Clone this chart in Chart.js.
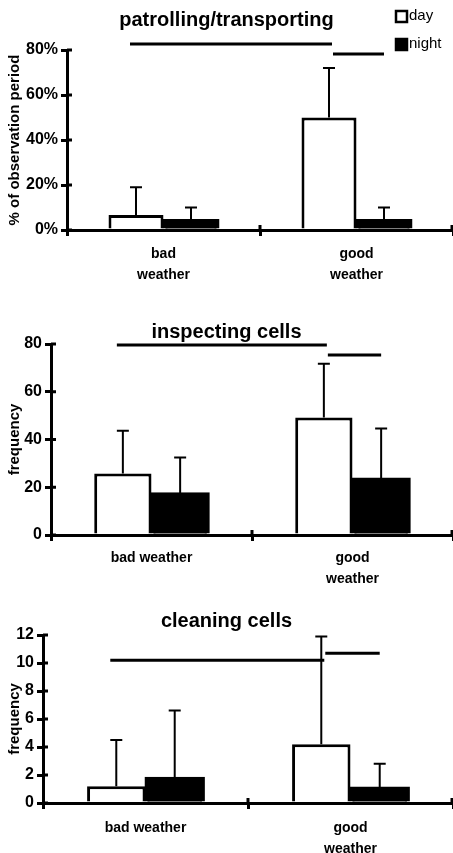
<!DOCTYPE html>
<html>
<head>
<meta charset="utf-8">
<script src="https://cdn.jsdelivr.net/npm/chart.js@4.4.1/dist/chart.umd.min.js"></script>
<style>
  body { margin: 0; background: #fff; width: 453px; height: 853px; position: relative; overflow: hidden; }
  canvas { position: absolute; left: 0; }
</style>
</head>
<body>
<canvas id="patrol" width="453" height="290" style="top:0"></canvas>
<canvas id="inspect" width="453" height="300" style="top:290px"></canvas>
<canvas id="clean" width="453" height="263" style="top:590px"></canvas>
<script>
const FONT = "'Liberation Sans', Arial, sans-serif";
const seriesNames = ["day", "night"];

// patrolling/transporting (% of observation period)
const patrolCats = [["bad", "weather"], ["good", "weather"]];
const patrolDay = [6.7, 50];
const patrolDaySd = [12.3, 22];
const patrolNight = [4.4, 4.5];
const patrolNightSd = [5.6, 5.5];
const patrolTicks = [0, 20, 40, 60, 80];
// [category, series] -> [category, series] at value
const patrolSig = [[0, 0, 1, 0, 82.7], [1, 0, 1, 1, 78.2]];

// inspecting cells (frequency)
const inspectCats = ["bad weather", ["good", "weather"]];
const inspectDay = [25.8, 49.2];
const inspectDaySd = [17.9, 22.5];
const inspectNight = [17.5, 23.7];
const inspectNightSd = [15, 20.9];
const inspectTicks = [0, 20, 40, 60, 80];
const inspectSig = [[0, 0, 1, 0, 79.6], [1, 0, 1, 1, 75.4]];

// cleaning cells (frequency)
const cleanCats = ["bad weather", ["good", "weather"]];
const cleanDay = [1.2, 4.2];
const cleanDaySd = [3.3, 7.7];
const cleanNight = [1.8, 1.1];
const cleanNightSd = [4.8, 1.7];
const cleanTicks = [0, 2, 4, 6, 8, 10, 12];
const cleanSig = [[0, 0, 1, 0, 10.2], [1, 0, 1, 1, 10.7]];

/* error whiskers, significance bars, inner tick stubs */
const extras = {
  id: "extras",
  afterDatasetsDraw(chart, args, opts) {
    const ctx = chart.ctx;
    const { x, y } = chart.scales;
    const area = chart.chartArea;
    ctx.save();
    ctx.strokeStyle = "#000";
    ctx.lineWidth = 2;
    opts.sd.forEach((sd, d) => {
      const ds = chart.data.datasets[d];
      chart.getDatasetMeta(d).data.forEach((bar, i) => {
        const top = y.getPixelForValue(ds.data[i] + sd[i]);
        ctx.beginPath();
        ctx.moveTo(bar.x, bar.y);
        ctx.lineTo(bar.x, top);
        ctx.moveTo(bar.x - 6, top);
        ctx.lineTo(bar.x + 6, top);
        ctx.stroke();
      });
    });

    ctx.lineWidth = 3;
    opts.sig.forEach(([c1, d1, c2, d2, v], k) => {
      const a = chart.getDatasetMeta(d1).data[c1].x;
      const b = chart.getDatasetMeta(d2).data[c2].x;
      const py = y.getPixelForValue(v);
      ctx.beginPath();
      ctx.moveTo(k === 0 ? a - 6 : a + 4, py);
      ctx.lineTo(k === 0 ? b + 3 : b, py);
      ctx.stroke();
    });

    // ticks cross the axes in the original
    ctx.beginPath();
    y.ticks.forEach(t => {
      const py = y.getPixelForValue(t.value);
      ctx.moveTo(area.left, py);
      ctx.lineTo(area.left + 5, py);
    });
    const mid = (x.getPixelForValue(0) + x.getPixelForValue(1)) / 2;
    [mid, area.right - 1].forEach(px => {
      ctx.moveTo(px, area.bottom);
      ctx.lineTo(px, area.bottom - 5);
    });
    ctx.stroke();
    ctx.restore();
  }
};

/* little day/night key in the top corner */
const key = {
  id: "key",
  afterDraw(chart, args, opts) {
    if (!opts.show) return;
    const ctx = chart.ctx;
    ctx.save();
    ctx.font = "15px " + FONT;
    ctx.textBaseline = "middle";
    chart.data.datasets.forEach((ds, i) => {
      const cy = 16 + i * 28;
      ctx.fillStyle = ds.backgroundColor;
      ctx.fillRect(396, cy - 5, 11, 11);
      ctx.strokeStyle = "#000";
      ctx.lineWidth = 2.5;
      ctx.strokeRect(396, cy - 5, 11, 11);
      ctx.fillStyle = "#000";
      ctx.fillText(ds.label, 409, cy);
    });
    ctx.restore();
  }
};

function makePanel(id, p) {
  new Chart(document.getElementById(id), {
    type: "bar",
    data: {
      labels: p.cats,
      datasets: [
        { label: seriesNames[0], data: p.day, backgroundColor: "#fff", borderColor: "#000", borderWidth: 3 },
        { label: seriesNames[1], data: p.night, backgroundColor: "#000", borderColor: "#000", borderWidth: 3, inflateAmount: 1 }
      ]
    },
    options: {
      responsive: false,
      animation: false,
      events: [],
      layout: { padding: 0 },
      datasets: { bar: { categoryPercentage: 0.57, barPercentage: 1.0 } },
      plugins: {
        legend: { display: false },
        tooltip: { enabled: false },
        title: {
          display: true,
          text: p.title,
          color: "#000",
          font: { family: FONT, size: 20, weight: "bold" },
          padding: p.titlePad
        },
        extras: { sd: [p.daySd, p.nightSd], sig: p.sig },
        key: { show: !!p.key }
      },
      scales: {
        x: {
          offset: true,
          afterFit: s => { s.height = p.xHeight; },
          border: { color: "#000", width: 3 },
          grid: { offset: true, drawOnChartArea: false, tickLength: 6, lineWidth: 3, color: "#000" },
          ticks: { color: "#000", padding: p.xPad, maxRotation: 0, font: { family: FONT, size: 14, weight: "bold", lineHeight: 1.5 } }
        },
        y: {
          min: 0,
          max: p.ticks[p.ticks.length - 1],
          afterFit: s => { s.width = p.yWidth; },
          afterBuildTicks: s => { s.ticks = p.ticks.map(v => ({ value: v })); },
          border: { color: "#000", width: 3 },
          grid: { drawOnChartArea: false, tickLength: 6, lineWidth: 3, color: "#000" },
          ticks: { color: "#000", padding: 3, callback: v => v + p.unit, font: { family: FONT, size: 16, weight: "bold" } },
          title: { display: true, text: p.yTitle, color: "#000", padding: { top: 6, bottom: 0 }, font: { family: FONT, size: 15, weight: "bold" } }
        }
      }
    },
    plugins: [extras, key]
  });
}

makePanel("patrol", {
  title: "patrolling/transporting", titlePad: { top: 8, bottom: 18 },
  cats: patrolCats, day: patrolDay, daySd: patrolDaySd, night: patrolNight, nightSd: patrolNightSd,
  ticks: patrolTicks, unit: "%", sig: patrolSig, yTitle: "% of observation period",
  yWidth: 67, xHeight: 60, xPad: 8, key: true
});

makePanel("inspect", {
  title: "inspecting cells", titlePad: { top: 30, bottom: 0 },
  cats: inspectCats, day: inspectDay, daySd: inspectDaySd, night: inspectNight, nightSd: inspectNightSd,
  ticks: inspectTicks, unit: "", sig: inspectSig, yTitle: "frequency",
  yWidth: 51, xHeight: 55, xPad: 7
});

makePanel("clean", {
  title: "cleaning cells", titlePad: { top: 19, bottom: 2 },
  cats: cleanCats, day: cleanDay, daySd: cleanDaySd, night: cleanNight, nightSd: cleanNightSd,
  ticks: cleanTicks, unit: "", sig: cleanSig, yTitle: "frequency",
  yWidth: 43, xHeight: 50, xPad: 9
});
</script>
</body>
</html>
